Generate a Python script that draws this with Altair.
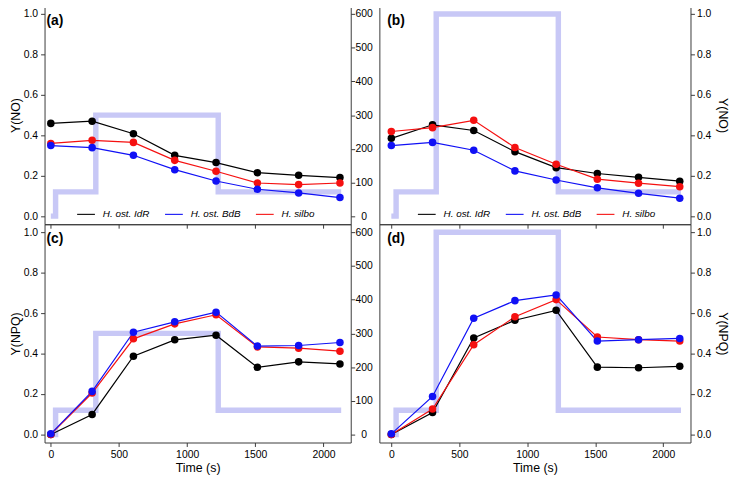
import altair as alt
import pandas as pd

time_s = [0, 303, 606, 909, 1212, 1515, 1818, 2121]
species = ["H. ost. IdR", "H. ost. BdB", "H. silbo"]
colors = ["#000000", "#1010f5", "#f51010"]
draw_order = ["H. ost. IdR", "H. silbo", "H. ost. BdB"]

# (a) Y(NO), 300 light
a_idr = [0.459, 0.470, 0.408, 0.301, 0.265, 0.215, 0.202, 0.191]
a_bdb = [0.349, 0.339, 0.301, 0.230, 0.174, 0.133, 0.115, 0.092]
a_silbo = [0.360, 0.375, 0.365, 0.276, 0.222, 0.164, 0.156, 0.164]
# (b) Y(NO), 600 light
b_idr = [0.385, 0.452, 0.424, 0.319, 0.240, 0.211, 0.192, 0.173]
b_bdb = [0.349, 0.365, 0.326, 0.224, 0.179, 0.140, 0.113, 0.089]
b_silbo = [0.419, 0.438, 0.474, 0.340, 0.257, 0.183, 0.163, 0.146]
# (c) Y(NPQ), 300 light
c_idr = [0.0, 0.099, 0.387, 0.468, 0.491, 0.332, 0.359, 0.349]
c_bdb = [0.003, 0.213, 0.506, 0.557, 0.605, 0.437, 0.440, 0.455]
c_silbo = [0.0, 0.205, 0.473, 0.547, 0.592, 0.433, 0.427, 0.412]
# (d) Y(NPQ), 600 light
d_idr = [0.0, 0.108, 0.477, 0.565, 0.614, 0.333, 0.330, 0.337]
d_bdb = [0.003, 0.188, 0.575, 0.662, 0.690, 0.462, 0.469, 0.475]
d_silbo = [0.0, 0.126, 0.444, 0.582, 0.667, 0.482, 0.469, 0.462]

light_t = [0, 35, 330, 1228, 2130]
light_300 = [0, 72, 300, 72, 72]
light_600 = [0, 72, 600, 72, 72]

x_ticks = [0, 500, 1000, 1500, 2000]
y_ticks = [0, 0.2, 0.4, 0.6, 0.8, 1.0]
par_ticks = [0, 100, 200, 300, 400, 500, 600]

FONT = "Liberation Sans"
PANEL_H = 221


def panel(idr, bdb, silbo, light, label, ytitle, left, top, width, xdom):
    series = {"H. ost. IdR": idr, "H. ost. BdB": bdb, "H. silbo": silbo}
    rows = []
    for s in draw_order:
        for t, v in zip(time_s, series[s]):
            rows.append({"t": t, "v": v, "s": s})
    df = pd.DataFrame(rows)
    ldf = pd.DataFrame({"t": light_t, "par": light})

    xscale = alt.Scale(domain=xdom, nice=False, zero=False)
    if top:
        xaxis = alt.Axis(values=x_ticks, labels=False, title=None, tickSize=4)
    else:
        xaxis = alt.Axis(values=x_ticks, title="Time (s)", tickSize=4, format="d",
                         labelPadding=3, titlePadding=2)

    if left:
        par_axis = alt.Axis(orient="right", values=par_ticks, title=None,
                            labelAlign="center", labelPadding=9, tickSize=4)
        yaxis = alt.Axis(orient="left", values=y_ticks, format=".1f", title=ytitle,
                         labelPadding=3, titlePadding=1, tickSize=4)
    else:
        par_axis = None
        yaxis = alt.Axis(orient="right", values=y_ticks, format=".1f", title=ytitle,
                         labelPadding=2, titlePadding=5, tickSize=4)

    light_chart = alt.Chart(ldf).mark_line(
        interpolate="step-after", color="#c8c8f6", strokeWidth=5.5
    ).encode(
        x=alt.X("t:Q", scale=xscale, axis=xaxis),
        y=alt.Y("par:Q", scale=alt.Scale(domain=[-24, 624], nice=False), axis=par_axis),
    )

    cscale = alt.Scale(domain=species, range=colors)
    if top:
        leg = alt.Legend(orient="none", legendX=38 if not left else 32, legendY=201,
                         direction="horizontal",
                         title=None, symbolType="stroke", symbolSize=324,
                         symbolStrokeWidth=1.1, labelFontStyle="italic",
                         labelFontSize=10, labelFont=FONT, labelColor="black",
                         labelOffset=7, columnPadding=12, padding=0)
    else:
        leg = None

    base = alt.Chart(df).encode(
        x=alt.X("t:Q", scale=xscale, axis=xaxis),
        y=alt.Y("v:Q", scale=alt.Scale(domain=[-0.04, 1.04], nice=False), axis=yaxis),
    )
    lines = base.mark_line(strokeWidth=1.2).encode(
        color=alt.Color("s:N", scale=cscale, legend=leg),
        detail="s:N",
    )
    pts = base.mark_circle(size=58, opacity=1).encode(
        color=alt.Color("s:N", scale=cscale, legend=None),
    )
    txt = alt.Chart(pd.DataFrame({"lab": [label]})).mark_text(
        align="left", baseline="middle", fontSize=14, fontWeight="bold", font=FONT,
        color="black"
    ).encode(x=alt.value(8 if not left else 2), y=alt.value(15), text="lab:N")

    data_layer = alt.layer(lines, pts, txt)
    return alt.layer(light_chart, data_layer).resolve_scale(y="independent").properties(
        width=width, height=PANEL_H
    )


LEFT_DOM = [-46, 2200]
RIGHT_DOM = [-88, 2200]
pa = panel(a_idr, a_bdb, a_silbo, light_300, "(a)", "Y(NO)", True, True, 310, LEFT_DOM)
pb = panel(b_idr, b_bdb, b_silbo, light_600, "(b)", "Y(NO)", False, True, 315, RIGHT_DOM)
pc = panel(c_idr, c_bdb, c_silbo, light_300, "(c)", "Y(NPQ)", True, False, 310, LEFT_DOM)
pdd = panel(d_idr, d_bdb, d_silbo, light_600, "(d)", "Y(NPQ)", False, False, 315, RIGHT_DOM)

chart = alt.concat(
    pa, pb, pc, pdd, columns=2, spacing={"row": 0, "column": 29}, bounds="flush"
).resolve_scale(color="independent").resolve_legend(color="independent").properties(
    padding={"left": 0, "top": -9, "right": 0, "bottom": 0}
).configure(
    font=FONT
).configure_view(
    stroke="#3a3a3a", strokeWidth=1
).configure_axis(
    labelFont=FONT, titleFont=FONT, labelFontSize=10.5, titleFontSize=12.5,
    titleFontWeight="normal", labelColor="black", titleColor="black",
    domain=False, grid=False, tickColor="#3a3a3a", tickWidth=1
)

chart.save("out.html", embed_options={"renderer": "svg", "actions": False})
